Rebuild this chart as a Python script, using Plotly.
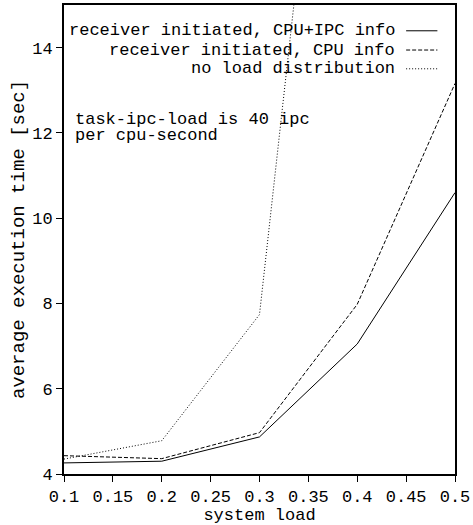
import plotly.graph_objects as go

system_load = [0.1, 0.2, 0.3, 0.4, 0.5]
cpu_ipc_info = [4.26, 4.30, 4.87, 7.05, 10.6]
cpu_info = [4.43, 4.36, 4.97, 7.98, 13.16]
no_distribution = [4.35, 4.78, 7.74, 28.4, 60.0]

series_names = ["receiver initiated, CPU+IPC info",
                "receiver initiated, CPU info",
                "no load distribution"]
series_values = [cpu_ipc_info, cpu_info, no_distribution]
series_dash = ["solid", "4px,2px", "1px,2px"]

note_lines = ["task-ipc-load is 40 ipc", "per cpu-second"]

FONT = "Liberation Mono, Courier New, monospace"

fig = go.Figure()
for name, vals, dash in zip(series_names, series_values, series_dash):
    fig.add_trace(go.Scatter(x=system_load, y=vals, mode="lines", name=name,
                             line=dict(color="black", width=1, dash=dash),
                             showlegend=False, cliponaxis=True))

# custom legend (text right-aligned, sample on the right)
leg_y = [0.945, 0.904, 0.864]
for name, dash, yy in zip(series_names, series_dash, leg_y):
    fig.add_annotation(x=0.85, y=yy, xref="paper", yref="paper", text=name,
                       showarrow=False, xanchor="right", yanchor="middle",
                       borderpad=0,
                       font=dict(family=FONT, size=17, color="black"))
    fig.add_shape(type="line", xref="paper", yref="paper",
                  x0=0.875, x1=0.955, y0=yy, y1=yy,
                  line=dict(color="black", width=1, dash=dash))

for txt, yy in zip(note_lines, [0.756, 0.722]):
    fig.add_annotation(x=0.025, y=yy, xref="paper", yref="paper",
                       text=txt, showarrow=False, borderpad=0,
                       xanchor="left", yanchor="middle",
                       font=dict(family=FONT, size=17, color="black"))

fig.update_layout(
    width=473, height=525,
    margin=dict(l=64, r=17, t=3, b=51),
    plot_bgcolor="white", paper_bgcolor="white",
    font=dict(family=FONT, size=17, color="black"),
    xaxis=dict(range=[0.1, 0.5], tickvals=[0.1, 0.15, 0.2, 0.25, 0.3, 0.35, 0.4, 0.45, 0.5],
               ticktext=["0.1", "0.15", "0.2", "0.25", "0.3", "0.35", "0.4", "0.45", "0.5"],
               ticks="outside", ticklen=6, tickwidth=1, tickcolor="black",
               showline=True, linecolor="black", linewidth=2, mirror=True,
               showgrid=False, zeroline=False,
               title=dict(text="system load", standoff=0,
                          font=dict(family=FONT, size=17))),
    yaxis=dict(range=[4, 15], tickvals=[4, 6, 8, 10, 12, 14],
               ticks="outside", ticklen=6, tickwidth=1, tickcolor="black",
               showline=True, linecolor="black", linewidth=2, mirror=True,
               showgrid=False, zeroline=False,
               title=dict(text="average execution time [sec]", standoff=3,
                          font=dict(family=FONT, size=19))),
)

fig.write_html("out.html")
